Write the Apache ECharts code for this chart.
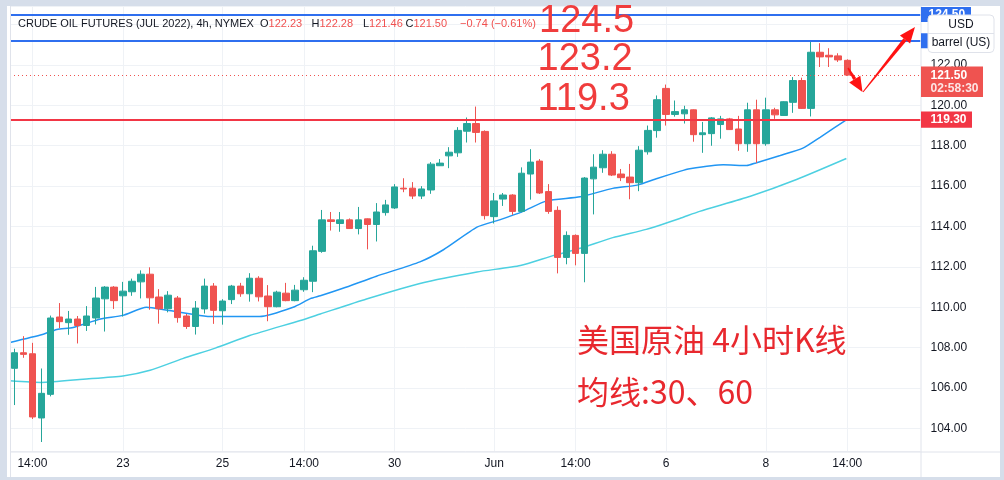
<!DOCTYPE html>
<html>
<head>
<meta charset="utf-8">
<script src="https://cdn.jsdelivr.net/npm/echarts@6/dist/echarts.min.js"></script>
<style>
html,body{margin:0;padding:0;background:#d6deea;}
#panel{position:absolute;left:7px;top:6px;width:993px;height:471px;background:#ffffff;}
#c{position:absolute;left:0;top:0;width:1004px;height:480px;}
</style>
</head>
<body>
<div id="panel"></div>
<div id="c"></div>
<script>
// ---- data ----
// candle [open, close, low, high], one 4h bar per entry
const ohlc = [
 [106.98,107.75,105.16,107.95],[107.75,107.67,107.50,108.57],[107.70,104.57,104.47,108.24],[104.52,105.74,103.33,106.97],
 [105.69,109.47,105.59,109.59],[109.52,109.29,108.97,110.21],[109.24,109.42,108.64,109.82],[109.42,109.10,108.21,109.57],
 [109.10,109.57,108.83,110.06],[109.47,110.46,109.15,111.01],[110.42,111.00,108.80,111.05],[111.00,110.33,109.92,111.05],
 [110.57,110.80,109.54,111.26],[110.77,111.29,110.57,111.42],[111.26,111.64,110.44,111.83],[111.64,110.47,109.88,111.98],
 [110.51,109.93,109.19,110.90],[109.93,110.60,109.75,110.80],[110.46,109.49,109.24,110.56],[109.57,109.05,108.93,109.67],
 [109.05,109.96,108.65,110.31],[109.92,111.05,109.69,111.42],[111.05,109.85,109.18,111.20],[109.83,110.31,109.14,110.40],
 [110.38,111.05,110.16,111.11],[111.05,110.67,110.52,111.21],[110.67,111.44,110.28,111.69],[111.44,110.52,110.29,111.54],
 [110.56,110.03,109.31,111.10],[110.03,110.75,110.00,110.82],[110.70,110.33,110.30,111.21],[110.33,110.85,110.30,111.11],
 [110.87,111.34,110.77,111.49],[111.29,112.80,110.75,113.05],[112.77,114.33,112.70,114.82],[114.33,114.25,113.80,114.72],
 [114.15,114.33,113.74,114.72],[114.33,113.90,113.88,114.40],[113.90,114.33,113.61,114.97],[114.38,114.10,112.87,114.40],
 [114.10,114.72,113.26,115.16],[114.69,115.07,114.54,115.32],[114.92,115.96,114.87,116.10],[115.90,115.86,115.70,116.39],
 [115.90,115.51,115.36,116.20],[115.51,115.86,115.36,116.00],[115.81,117.09,115.62,117.19],[117.01,117.14,117.00,117.34],
 [117.50,117.68,116.89,117.93],[117.65,118.76,117.45,118.92],[118.72,119.10,118.16,119.40],[119.10,118.66,118.16,119.94],
 [118.71,114.54,114.35,118.76],[114.49,115.27,114.15,115.66],[115.36,115.56,115.02,115.66],[115.56,114.75,114.58,115.60],
 [114.75,116.64,114.70,116.93],[116.60,117.19,115.33,117.83],[117.24,115.66,115.61,117.34],[115.73,114.75,114.63,116.10],
 [114.80,112.47,111.68,115.00],[112.47,113.56,112.13,113.76],[113.56,112.67,112.08,113.61],[112.67,116.40,111.24,116.45],
 [116.36,116.94,114.60,117.58],[116.91,117.58,116.66,117.78],[117.58,116.55,116.50,117.73],[116.60,116.42,116.25,116.85],
 [116.45,116.17,115.35,117.10],[116.17,117.78,115.75,117.98],[117.70,118.76,117.56,119.00],[118.75,120.28,118.40,120.49],
 [120.84,119.55,119.00,121.03],[119.55,119.69,119.44,120.24],[119.58,119.78,119.10,119.98],[119.78,118.55,118.20,119.80],
 [118.55,118.64,117.65,119.18],[118.60,119.38,118.00,119.42],[119.05,119.33,118.35,119.48],[119.33,118.80,118.78,119.38],
 [118.83,118.10,117.75,119.48],[118.10,119.78,117.70,120.13],[119.78,118.10,117.15,120.28],[118.10,119.78,118.00,120.38],
 [119.78,119.53,119.33,119.88],[119.50,120.18,119.48,120.20],[120.15,121.23,119.63,121.40],[121.23,119.85,119.82,121.37],
 [119.85,122.63,119.45,123.18],[122.63,122.40,121.90,123.08],[122.48,122.40,121.90,122.83],[122.45,122.25,122.15,122.58],
 [122.23,121.50,121.46,122.28]
];
// moving averages read at bar positions [barIndex, value]
const ma30 = [[-0.47,108.26],[3.1,108.65],[4.7,108.90],[6.5,109.00],[9.5,109.42],[12,109.60],[14.6,110.00],[16.9,109.85],
 [20.5,109.60],[22,109.54],[26,109.55],[27.1,109.54],[30.8,110.00],[32.7,110.43],[33.8,110.57],[36.3,110.94],[40,111.54],
 [44.8,112.25],[47.4,112.85],[51.1,113.97],[53.6,114.33],[56.2,114.75],[58.8,115.27],[62.5,115.47],[66.1,115.89],[68.8,116.05],
 [71,116.38],[73.5,116.73],[74.6,116.86],[78.3,117.06],[80.9,117.02],[81.9,117.15],[84.6,117.52],[87.1,117.88],[89,118.42],[91.9,119.28]];
const ma60 = [[-0.47,106.36],[3.0,106.28],[7.6,106.44],[12.0,106.60],[15.0,106.88],[18.6,107.46],[22.2,107.98],[26.0,108.60],
 [31.6,109.35],[33.8,109.67],[38.9,110.41],[44.8,111.18],[51.1,111.75],[55.9,112.07],[59.5,112.56],[62.5,112.92],[66.1,113.45],
 [69.8,113.86],[73.5,114.40],[75.7,114.75],[81.3,115.50],[86.4,116.33],[91.9,117.37]];
const timeIdx  = [2, 12, 23, 32, 42, 53, 62, 72, 83, 92];
const timeText = ['14:00','23','25','14:00','30','Jun','14:00','6','8','14:00'];
const blueLevels = [124.5, 123.2];
const redLevel = 119.3;
const lastPrice = 121.50;
const countdown = '02:58:30';
const legendVals = {O:'122.23', H:'122.28', L:'121.46', C:'121.50', chg:'\u22120.74 (\u22120.61%)'};
const bigLabels = ['124.5', '123.2', '119.3'];
const noteLines = ['美国原油 4小时K线', '均线:30、60'];

// ---- chart ----
const FONT = '"Liberation Sans", Arial, sans-serif';
const X_MIN = -0.475, X_MAX = 100.09;
const labelMap = {};
timeIdx.forEach((v, i) => { labelMap[v] = timeText[i]; });

const chart = echarts.init(document.getElementById('c'));
const option = {
  animation: false,
  backgroundColor: 'transparent',
  textStyle: { fontFamily: FONT },
  grid: { left: 10, right: 83.5, top: 6, bottom: 28.5, containLabel: false },
  xAxis: {
    type: 'value', min: X_MIN, max: X_MAX,
    axisLine: { show: false },
    axisTick: { show: false, customValues: timeIdx },
    axisLabel: { customValues: timeIdx, formatter: v => labelMap[v] || '', color: '#131722', fontSize: 12, margin: 6 },
    splitLine: { show: true, lineStyle: { color: '#eff2f6', width: 1 } }
  },
  yAxis: {
    type: 'value', position: 'right', min: 102.86, max: 124.92,
    splitNumber: 11, minInterval: 2, maxInterval: 2,
    axisLine: { show: false },
    axisTick: { show: false },
    axisLabel: { showMinLabel: false, showMaxLabel: false, formatter: v => v.toFixed(2), color: '#131722', fontSize: 12, margin: 10 },
    splitLine: { lineStyle: { color: '#eff2f6', width: 1 } }
  },
  series: [
    {
      type: 'line', data: ma60, showSymbol: false, smooth: 0.2, z: 3,
      lineStyle: { color: '#4dd0e1', width: 1.5 }, silent: true
    },
    {
      type: 'line', data: ma30, showSymbol: false, smooth: 0.2, z: 3,
      lineStyle: { color: '#2196f3', width: 1.5 }, silent: true
    },
    {
      type: 'candlestick', z: 4,
      data: ohlc.map((d, i) => [i, d[0], d[1], d[2], d[3]]),
      encode: { x: 0, y: [1, 2, 3, 4] },
      barWidth: 7,
      itemStyle: { color: '#26a69a', color0: '#ef5350', borderColor: '#26a69a', borderColor0: '#ef5350', borderWidth: 1 },
      markLine: {
        silent: true, symbol: ['none', 'none'], label: { show: false },
        data: [
          { yAxis: lastPrice, lineStyle: { color: '#ef5350', width: 1, type: [1, 3] } },
          { yAxis: blueLevels[0], lineStyle: { color: '#2f6fef', width: 2, type: 'solid' } },
          { yAxis: blueLevels[1], lineStyle: { color: '#2f6fef', width: 2, type: 'solid' } },
          { yAxis: redLevel, lineStyle: { color: '#f23645', width: 2, type: 'solid' } }
        ]
      }
    }
  ]
};
chart.setOption(option);

const py = v => chart.convertToPixel({ yAxisIndex: 0 }, v);
const px = v => chart.convertToPixel({ xAxisIndex: 0 }, v);
const right = px(X_MAX);
const bottom = py(102.86);

function arrow(sx, sy, tx, ty, headLen, headHalf, w0, w1, color) {
  const dx = tx - sx, dy = ty - sy, len = Math.hypot(dx, dy);
  const ux = dx / len, uy = dy / len, nx = -uy, ny = ux;
  const bx = tx - ux * headLen, by = ty - uy * headLen;
  return [
    { type: 'polygon', z: 60, silent: true,
      shape: { points: [[sx + nx * w0 / 2, sy + ny * w0 / 2], [bx + nx * w1 / 2, by + ny * w1 / 2], [bx - nx * w1 / 2, by - ny * w1 / 2], [sx - nx * w0 / 2, sy - ny * w0 / 2]] },
      style: { fill: color } },
    { type: 'polygon', z: 60, silent: true,
      shape: { points: [[tx, ty], [bx + nx * headHalf, by + ny * headHalf], [bx - nx * headHalf, by - ny * headHalf]] },
      style: { fill: color } }
  ];
}

const lbl = (x, y, text, font, fill, extra) => Object.assign({ type: 'text', x, y, z: 50, silent: true,
  style: Object.assign({ text, font, fill, align: 'left', verticalAlign: 'middle' }, extra || {}) });

const redRich = { r: { fill: '#f0504f', font: '11px ' + FONT } };
const els = [
  // panel separators
  { type: 'line', z: 5, silent: true, shape: { x1: 10, y1: bottom + 0.5, x2: 1000, y2: bottom + 0.5 }, style: { stroke: '#e0e3eb', lineWidth: 1 } },
  { type: 'line', z: 5, silent: true, shape: { x1: right + 0.5, y1: 6, x2: right + 0.5, y2: 477 }, style: { stroke: '#e0e3eb', lineWidth: 1 } },
  { type: 'line', z: 5, silent: true, shape: { x1: 10.5, y1: 6, x2: 10.5, y2: 477 }, style: { stroke: '#e0e3eb', lineWidth: 1 } },
  // legend header
  lbl(18, 23.5, 'CRUDE OIL FUTURES (JUL 2022), 4h, NYMEX', '11px ' + FONT, '#131722'),
  lbl(260, 23.5, 'O{r|' + legendVals.O + '}', '11px ' + FONT, '#131722', { rich: redRich }),
  lbl(311.5, 23.5, 'H{r|' + legendVals.H + '}', '11px ' + FONT, '#131722', { rich: redRich }),
  lbl(363, 23.5, 'L{r|' + legendVals.L + '}', '11px ' + FONT, '#131722', { rich: redRich }),
  lbl(405.5, 23.5, 'C{r|' + legendVals.C + '}', '11px ' + FONT, '#131722', { rich: redRich }),
  lbl(460, 23.5, legendVals.chg, '11px ' + FONT, '#f0504f'),
  // right-axis price tags
  { type: 'rect', z: 40, silent: true, shape: { x: right + 0.5, y: py(blueLevels[0]) - 7.5, width: 50, height: 15 }, style: { fill: '#2f6fef' } },
  lbl(right + 8, py(blueLevels[0]), blueLevels[0].toFixed(2), 'bold 12px ' + FONT, '#ffffff'),
  { type: 'rect', z: 40, silent: true, shape: { x: right + 0.5, y: py(blueLevels[1]) - 7.5, width: 50, height: 15 }, style: { fill: '#2f6fef' } },
  lbl(right + 8, py(blueLevels[1]), blueLevels[1].toFixed(2), 'bold 12px ' + FONT, '#ffffff'),
  { type: 'rect', z: 70, silent: true, shape: { x: 928, y: 15, width: 66, height: 37.5, r: 4 }, style: { fill: '#ffffff', stroke: '#dfe2ea', lineWidth: 1 } },
  { type: 'line', z: 71, silent: true, shape: { x1: 928, y1: 33.5, x2: 994, y2: 33.5 }, style: { stroke: '#dfe2ea', lineWidth: 1 } },
  Object.assign(lbl(961, 24.5, 'USD', '12px ' + FONT, '#131722', { align: 'center' }), { z: 72 }),
  Object.assign(lbl(961, 43, 'barrel (US)', '12px ' + FONT, '#131722', { align: 'center' }), { z: 72 }),
  { type: 'rect', z: 40, silent: true, shape: { x: right + 0.5, y: py(lastPrice) - 8.5, width: 62, height: 30.5 }, style: { fill: '#ef5350' } },
  Object.assign(lbl(right + 10, py(lastPrice) + 0.5, lastPrice.toFixed(2), 'bold 12px ' + FONT, '#ffffff'), { z: 41 }),
  Object.assign(lbl(right + 10, py(lastPrice) + 14, countdown, 'bold 12px ' + FONT, 'rgba(255,255,255,0.85)'), { z: 41 }),
  { type: 'rect', z: 40, silent: true, shape: { x: right + 0.5, y: py(redLevel) - 8, width: 51, height: 16.3 }, style: { fill: '#f23645' } },
  Object.assign(lbl(right + 10, py(redLevel) + 0.3, redLevel.toFixed(2), 'bold 12px ' + FONT, '#ffffff'), { z: 41 }),
  // annotations
  lbl(539, 22, bigLabels[0], '38px ' + FONT, '#f03c3c'),
  lbl(537.5, 59.5, bigLabels[1], '38px ' + FONT, '#f03c3c'),
  lbl(537.5, 99.7, bigLabels[2], '38px ' + FONT, '#f03c3c'),
  lbl(577, 339.7, noteLines[0], '32px "Noto Sans CJK SC", sans-serif', '#e8282e'),
  lbl(577, 391.5, noteLines[1], '32px "Noto Sans CJK SC", sans-serif', '#e8282e')
].concat(
  arrow(848, 68, 862.5, 92, 15, 6.5, 1.5, 3.5, '#ff1212'),
  arrow(863, 92, 915, 27, 16, 6.5, 1, 4, '#ff1212')
);
chart.setOption({ graphic: { elements: els } });
</script>
</body>
</html>
